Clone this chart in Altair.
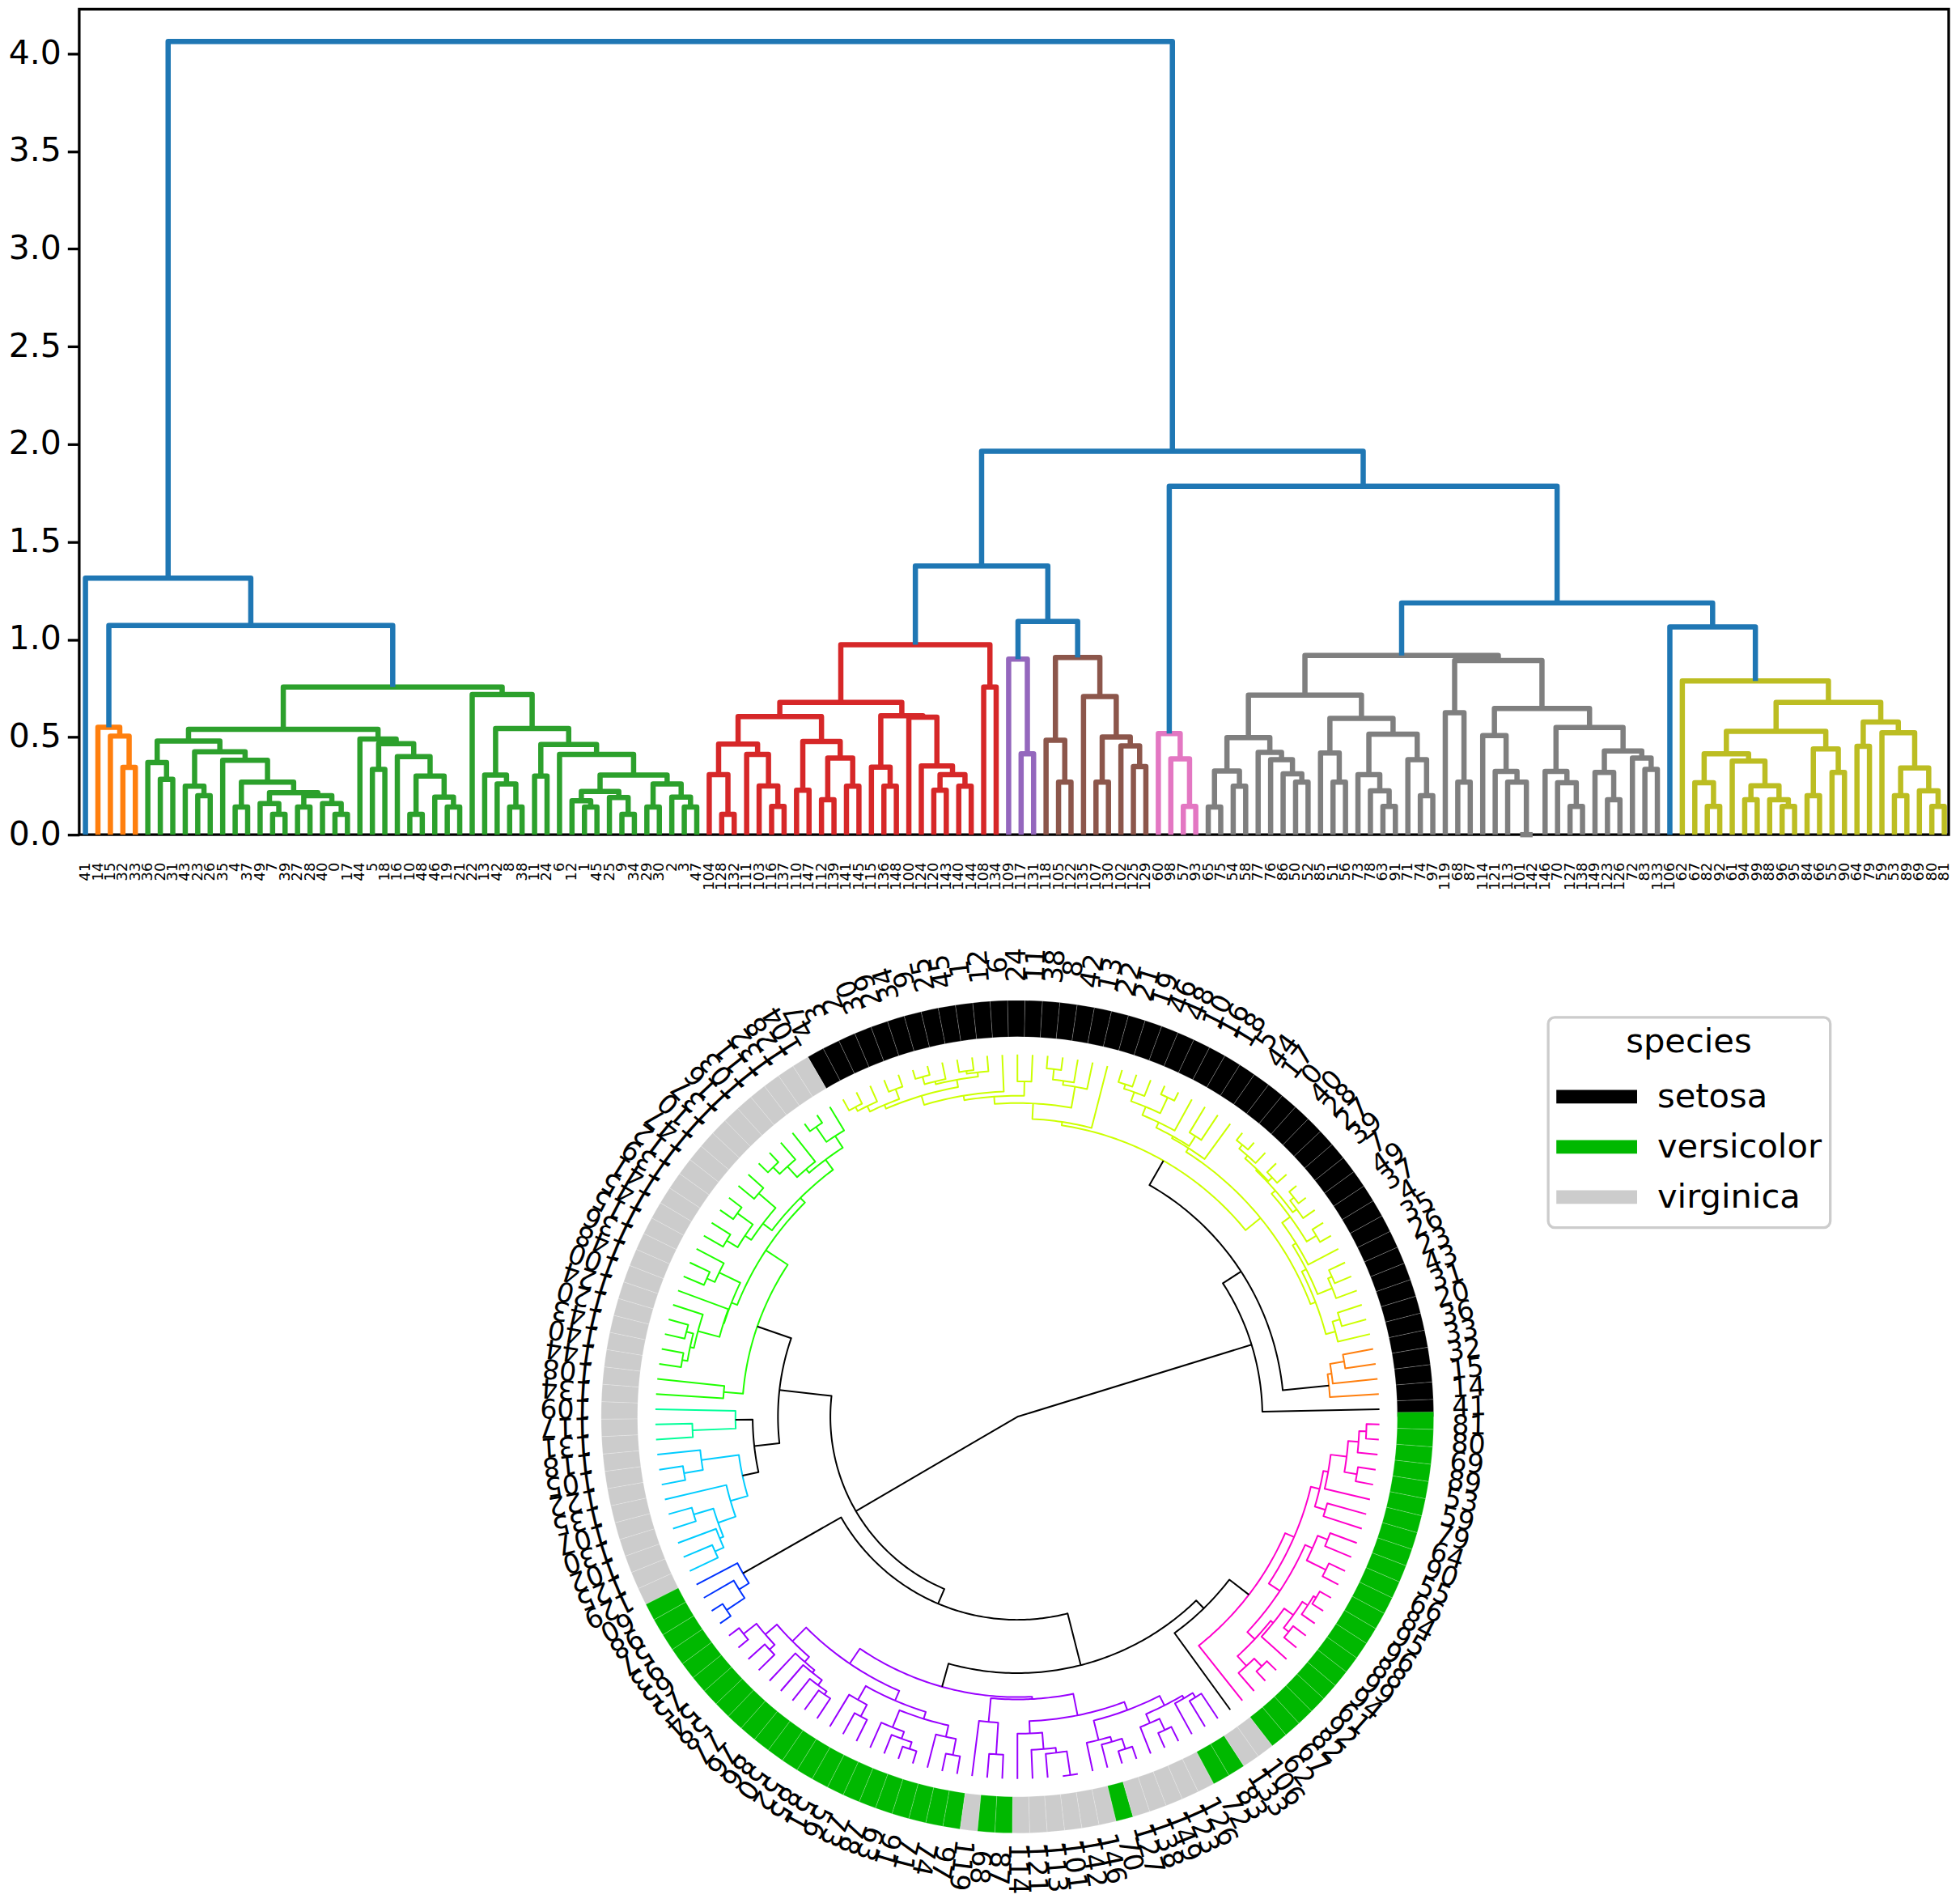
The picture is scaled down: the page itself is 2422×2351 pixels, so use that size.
import math
import altair as alt
import numpy as np
import pandas as pd

# ---- leaf labels, in dendrogram order ----
leaf_setosa = [41, 14, 15, 32, 33, 36, 20, 31, 43, 23, 26, 35, 4, 37, 49, 7, 39, 27, 28, 40, 0, 17, 44, 5, 18,
               16, 10, 48, 46, 19, 21, 22, 13, 42, 8, 38, 11, 24, 6, 12, 1, 45, 25, 9, 34, 29, 30, 2, 3, 47]
leaf_red = [104, 128, 132, 111, 103, 116, 137, 110, 147, 112, 139, 141, 145, 115, 136, 148, 100, 124, 120, 143,
            140, 144, 108, 134]
leaf_purple = [109, 117, 131]
leaf_brown = [118, 105, 122, 135, 107, 130, 102, 125, 129]
leaf_pink = [60, 98, 57, 93]
leaf_gray = [65, 75, 54, 58, 77, 76, 86, 50, 52, 85, 51, 56, 73, 78, 63, 91, 71, 74, 97, 119, 68, 87, 114, 121,
             113, 101, 142, 146, 70, 127, 138, 149, 123, 126, 72, 83, 133, 106]
leaf_olive = [62, 67, 82, 92, 61, 94, 99, 88, 96, 95, 84, 66, 55, 90, 64, 79, 59, 53, 89, 69, 80, 81]
leaf_labels = leaf_setosa + leaf_red + leaf_purple + leaf_brown + leaf_pink + leaf_gray + leaf_olive
assert len(leaf_labels) == 150 and sorted(leaf_labels) == list(range(150))

# ---- merges: (height, left, right); integers are leaf positions ----
tree_orange = (.55, 1, (.505, 2, (.345, 3, 4)))
tree_green = (.756,
    (.54,
        (.48,
            (.37, 5, (.284, 6, 7)),
            (.425,
                (.248, 8, (.2, 9, 10)),
                (.381, 11,
                    (.269, (.142, 12, 13),
                        (.215, (.159, 14, (.104, 15, 16)),
                               (.2, (.142, 17, 18), (.159, 19, (.104, 20, 21)))))))),
        (.49, 22, (.466, (.335, 23, 24),
                   (.40, 25, (.30, (.104, 26, 27), (.193, 28, (.142, 29, 30))))))),
    (.718, 31, (.544,
        (.305, 32, (.26, 33, (.142, 34, 35))),
        (.462, (.30, 36, 37),
            (.411, 38, (.305,
                (.222, (.174, 39, (.142, 40, 41)), (.19, 42, (.104, 43, 44))),
                (.26, (.142, 45, 46), (.193, 47, (.142, 48, 49)))))))))
tree_red = (.973,
    (.678,
        (.605,
            (.464, (.308, 50, (.104, 51, 52)), (.411, 53, (.25, 54, (.145, 55, 56)))),
            (.478, (.228, 57, 58), (.393, (.179, 59, 60), (.248, 61, 62)))),
        (.609, (.346, 63, (.248, 64, 65)),
               (.602, 66, (.352, 67, (.308, (.228, 68, 69), (.248, 70, 71)))))),
    (.756, 72, 73))
tree_purple = (.899, 74, (.414, 75, 76))
tree_brown = (.908, (.484, 77, (.269, 78, 79)),
              (.708, 80, (.50, (.269, 81, 82), (.455, 83, (.349, 84, 85)))))
tree_pink = (.518, 86, (.388, 87, (.145, 88, 89)))
tree_gray = (.918,
    (.715,
        (.497, (.326, (.142, 90, 91), (.248, 92, 93)),
               (.422, 94, (.384, 95, (.312, 96, (.269, 97, 98))))),
        (.596, (.418, 99, (.269, 100, 101)),
               (.515, (.308, 102, (.225, 103, (.145, 104, 105))), (.384, 106, (.2, 107, 108))))),
    (.892, (.625, 109, (.269, 110, 111)),
           (.646, (.508, 112, (.324, 113, (.269, 114, (.0, 115, 116)))),
                  (.549, (.324, 117, (.266, 118, (.145, 119, 120))),
                         (.429, (.319, 121, (.179, 122, 123)), (.393, 124, (.335, 125, 126)))))))
tree_olive = (.787, 128,
    (.678,
        (.529,
            (.414, (.266, 129, (.145, 130, 131)),
                   (.377, 132, (.251, (.179, 133, 134), (.179, 135, (.145, 136, 137))))),
            (.439, (.2, 138, 139), (.319, 140, 141))),
        (.577, (.453, 142, 143),
               (.522, 144, (.342, (.2, 145, 146), (.225, 147, (.145, 148, 149)))))))
tree_root = (4.0625,
    (1.314, 0, (1.071, tree_orange, tree_green)),
    (1.964,
        (1.376, tree_red, (1.092, tree_purple, tree_brown)),
        (1.785, tree_pink, (1.187, tree_gray, (1.064, 127, tree_olive)))))

# (subtree, colour on top, colour on the ring tree)
group_colors = [
    (tree_orange, "#ff7f0e", "#ff7f0e"),
    (tree_green, "#2ca02c", "#ccff00"),
    (tree_red, "#d62728", "#1fff00"),
    (tree_purple, "#9467bd", "#00ff99"),
    (tree_brown, "#8c564b", "#00ccff"),
    (tree_pink, "#e377c2", "#0033ff"),
    (tree_gray, "#7f7f7f", "#9900ff"),
    (tree_olive, "#bcbd22", "#ff00cc"),
]
species_names = ["setosa", "versicolor", "virginica"]
species_colors = ["#000000", "#00b800", "#cccccc"]
y_ticks = [0.0, 0.5, 1.0, 1.5, 2.0, 2.5, 3.0, 3.5, 4.0]

# ---- sizes ----
TOP_W, TOP_H, AXIS_BOTTOM = 2313, 1021, 75
X_MAX = 1498.5
AXIS_LEFT = 86
LOW_H = 1234
CX_LEFT, CY_TOP = 1160.8, 642.0     # distance of the circle centre from the panel's left / top
R_LEAF, R_RING_IN, R_RING_OUT, R_TEXT = 448, 470, 515, 559
RING_SPAN = 360.67

style = {id(t): (a, b) for t, a, b in group_colors}
top_rows, polar_rows = [], []
count = [0]


def ang(x):
    return math.radians(x / 1500 * 360)


def rad(h):
    return R_LEAF * (1 - h / tree_root[0])


def walk(node, top_c, pol_c):
    if isinstance(node, int):
        return node * 10 + 5, 0.0
    if id(node) in style:
        top_c, pol_c = style[id(node)]
    h, a, b = node
    xa, ha = walk(a, top_c, pol_c)
    xb, hb = walk(b, top_c, pol_c)
    nid = count[0]
    count[0] += 1
    rank = 1 if top_c == "#1f77b4" else 0
    for k, (px, py) in enumerate([(xa, ha), (xa, h), (xb, h), (xb, hb)]):
        top_rows.append(dict(node=nid, k=k, x=px, h=py, c=top_c, rank=rank))
    pts = [(xa, rad(ha))]
    steps = max(1, int(abs(xb - xa) / 3))
    for s in np.linspace(xa, xb, steps + 1):
        pts.append((float(s), rad(h)))
    pts.append((xb, rad(hb)))
    for k, (pa, pr) in enumerate(pts):
        polar_rows.append(dict(node=nid, k=k, px=pr * math.cos(ang(pa)), py=pr * math.sin(ang(pa)),
                               c=pol_c))
    return (xa + xb) / 2, h


walk(tree_root, "#1f77b4", "#000000")
assert count[0] == 149

top_df = pd.DataFrame(top_rows).sort_values(["rank", "node", "k"], kind="stable")
polar_df = pd.DataFrame(polar_rows)

# ---- top dendrogram ----
label_expr = "[" + ",".join(f"'{v}'" for v in leaf_labels) + "][(datum.value-5)/10]"
top = alt.Chart(top_df).mark_line(strokeWidth=6.5, strokeJoin="round", strokeCap="butt").encode(
    x=alt.X("x:Q", scale=alt.Scale(domain=[0, X_MAX], nice=False, zero=False),
            axis=alt.Axis(values=[i * 10 + 5 for i in range(150)], labelExpr=label_expr, labelAngle=270,
                          labelFontSize=18, labelPadding=34, tickSize=0, domain=False, grid=False,
                          title=None, labelOverlap=False, labelColor="black", labelFont="DejaVu Sans",
                          minExtent=AXIS_BOTTOM, maxExtent=AXIS_BOTTOM)),
    y=alt.Y("h:Q", scale=alt.Scale(domain=[0, TOP_H / 241.5], nice=False),
            axis=alt.Axis(values=y_ticks, format=".1f", tickSize=14.6, tickWidth=3.3, tickColor="black",
                          labelFontSize=41, labelPadding=8, labelColor="black", labelFont="DejaVu Sans",
                          domain=False, grid=False, title=None, minExtent=AXIS_LEFT, maxExtent=AXIS_LEFT)),
    color=alt.Color("c:N", scale=None),
    detail="node:N",
    order=alt.Order("k:Q"),
).properties(width=TOP_W, height=TOP_H,
             view=alt.ViewBackground(stroke="black", strokeWidth=3.3))

# ---- circular dendrogram ----
sx = alt.Scale(domain=[-CX_LEFT, TOP_W - CX_LEFT], nice=False, zero=False)
sy = alt.Scale(domain=[CY_TOP - LOW_H, CY_TOP], nice=False, zero=False)

ring_df = pd.DataFrame({
    "a": list(range(150)),
    "b": [i + 1 for i in range(150)],
    "r0": [R_RING_IN] * 150,
    "r1": [R_RING_OUT] * 150,
    "species": [species_names[v // 50] for v in leaf_labels],
})
text_df = pd.DataFrame({
    "t": [str(v) for v in leaf_labels],
    "x": [R_TEXT * math.cos(ang(i * 10 + 5)) for i in range(150)],
    "y": [R_TEXT * math.sin(ang(i * 10 + 5)) for i in range(150)],
    "rot": [(360 - math.degrees(ang(i * 10 + 5))) % 360 for i in range(150)],
})

ring = alt.Chart(ring_df).mark_arc(stroke="#ffffff", strokeWidth=0.4, strokeOpacity=0.5).encode(
    x=alt.X(datum=0, type="quantitative", scale=sx, axis=None),
    y=alt.Y(datum=0, type="quantitative", scale=sy, axis=None),
    theta=alt.Theta("a:Q", stack=None,
                    scale=alt.Scale(domain=[150 * 360 / (RING_SPAN), 0],
                                    range=[math.pi / 2, math.pi / 2 + 2 * math.pi])),
    theta2="b:Q",
    radius=alt.Radius("r1:Q", scale=alt.Scale(type="linear", domain=[0, R_RING_OUT], range=[0, R_RING_OUT])),
    radius2="r0:Q",
    color=alt.Color("species:N",
                    scale=alt.Scale(domain=species_names, range=species_colors),
                    legend=alt.Legend(title="species", orient="none", legendX=1817.5, legendY=148,
                                      titleFontSize=41.67, titleFontWeight="normal", titleFont="DejaVu Sans",
                                      titleColor="black", titleAnchor="middle", titlePadding=19,
                                      labelFontSize=41.67, labelFont="DejaVu Sans", labelColor="black",
                                      labelOffset=25, labelLimit=400, symbolSize=10000, symbolStrokeWidth=0,
                                      symbolType="M-1,-0.167H1V0.167H-1Z",
                                      clipHeight=55, rowPadding=7, padding=10,
                                      fillColor="white", strokeColor="#cccccc", cornerRadius=8)),
)
branches = alt.Chart(polar_df).mark_line(strokeWidth=2, strokeJoin="round").encode(
    x=alt.X("px:Q", scale=sx, axis=None),
    y=alt.Y("py:Q", scale=sy, axis=None),
    color=alt.Color("c:N", scale=None),
    detail="node:N",
    order=alt.Order("k:Q"),
)
names = alt.Chart(text_df).mark_text(align="center", baseline="middle", fontSize=33.3,
                                     font="DejaVu Sans", color="black").encode(
    x=alt.X("x:Q", scale=sx, axis=None),
    y=alt.Y("y:Q", scale=sy, axis=None),
    text="t:N",
    angle=alt.Angle("rot:Q", scale=None),
)
low = alt.layer(ring, branches, names).resolve_scale(color="independent").properties(
    width=TOP_W, height=LOW_H, view=alt.ViewBackground(stroke="transparent"))

chart = alt.vconcat(top, low, spacing=0).properties(padding=0, background="white").configure_legend(strokeWidth=3.3)
chart.save("out.html", embed_options={"renderer": "svg", "actions": False})
